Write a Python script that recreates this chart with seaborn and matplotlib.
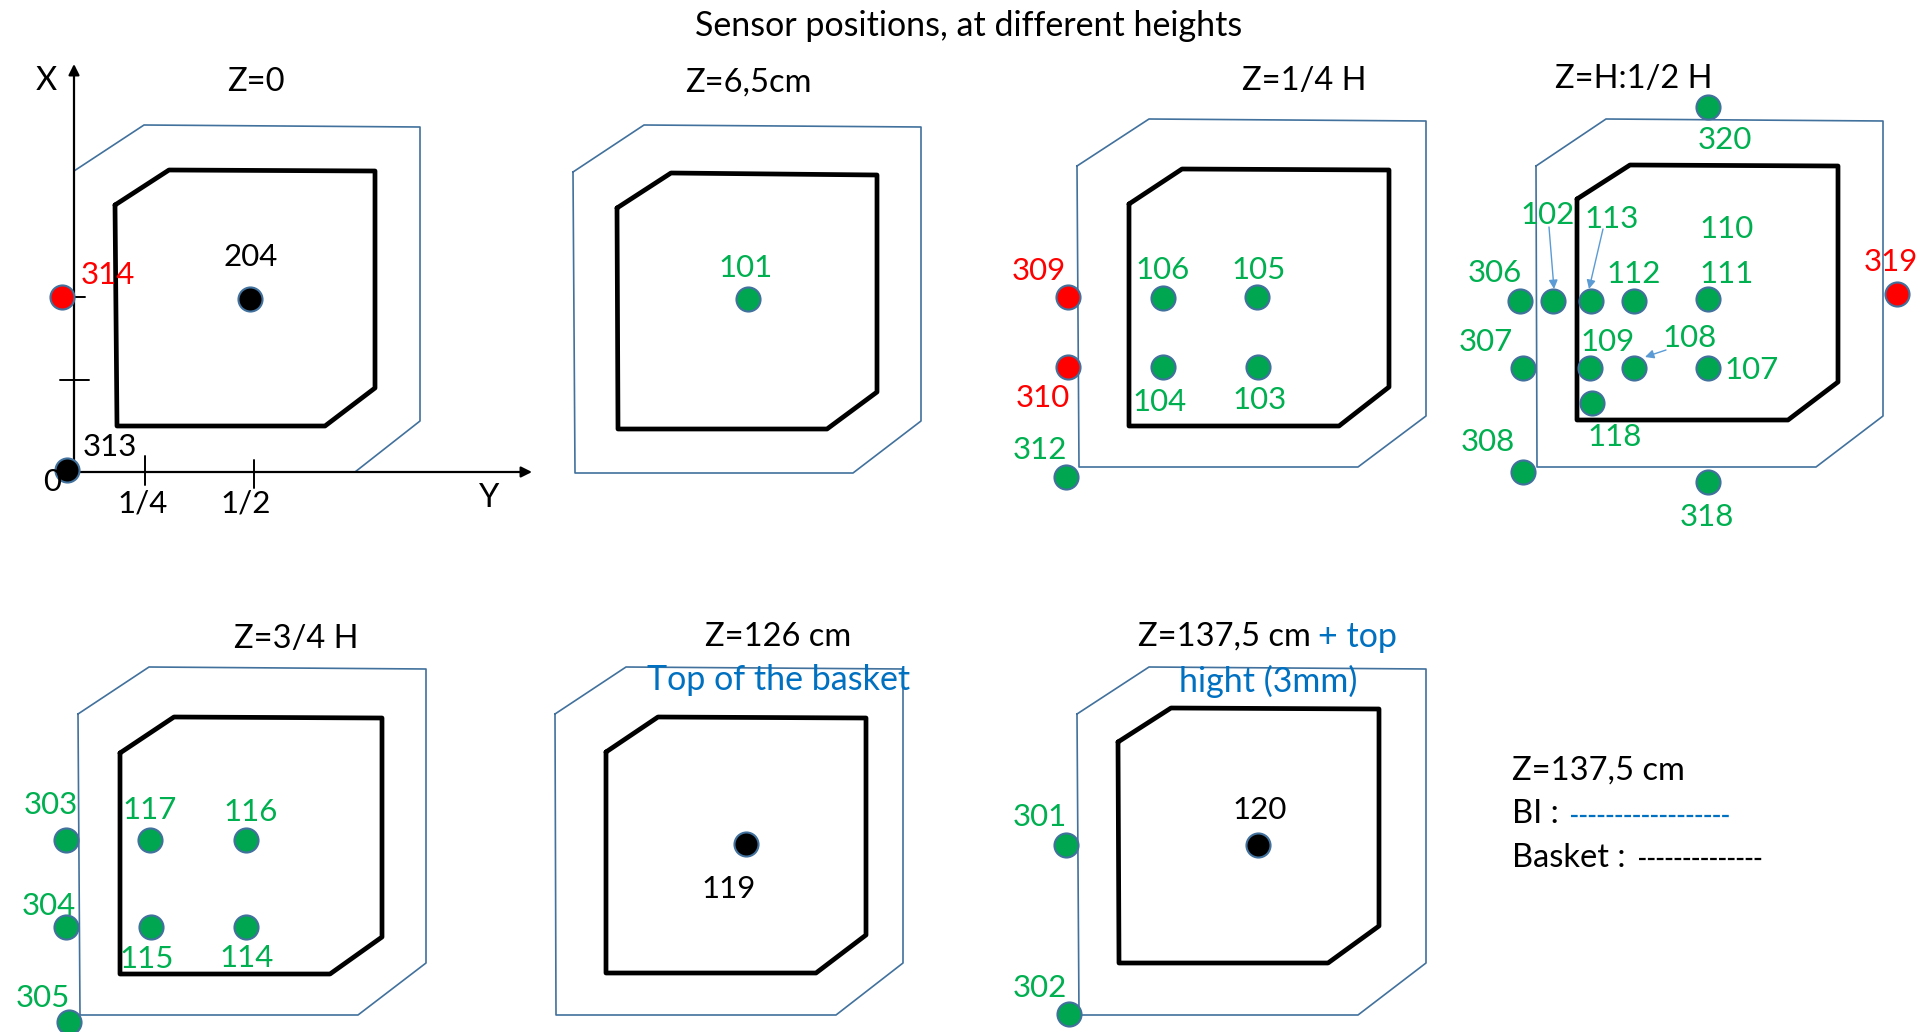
import matplotlib
matplotlib.use("Agg")
import matplotlib.pyplot as plt
import pandas as pd
import seaborn as sns

sns.set_theme(style="white")
plt.rcParams["font.family"] = ["Lato", "DejaVu Sans"]

GREEN = "#00b050"
DOT_GREEN = "#00a650"
RED = "#ff0000"
BLUE = "#0070c0"
EDGE = "#41719c"
FONT = 22.5
HEAD_FONT = 23.5
BIG_FONT = 24.5

## basket and BI outlines, one (x, y) list per panel
outer_z0 = [(74, 171), (144, 125), (420, 127), (420, 421), (355, 472), (74, 472)]
inner_z0 = [(115, 205), (169, 170), (375, 171), (375, 388), (325, 426), (117, 426)]
outer_z65 = [(573, 172), (644, 125), (921, 127), (921, 421), (853, 473), (575, 473)]
inner_z65 = [(617, 208), (671, 173), (877, 175), (877, 392), (827, 429), (618, 429)]
outer_q1 = [(1077, 166), (1149, 119), (1426, 121), (1426, 416), (1358, 467), (1079, 467)]
inner_q1 = [(1129, 204), (1182, 169), (1389, 170), (1389, 387), (1339, 426), (1129, 426)]
outer_half = [(1536, 166), (1606, 119), (1883, 121), (1883, 416), (1816, 467), (1537, 467)]
inner_half = [(1577, 199), (1630, 165), (1838, 166), (1838, 382), (1788, 420), (1577, 420)]
outer_q3 = [(78, 714), (149, 667), (426, 669), (426, 963), (358, 1015), (80, 1015)]
inner_q3 = [(120, 753), (174, 717), (382, 718), (382, 937), (330, 974), (120, 974)]
outer_z126 = [(555, 714), (626, 667), (903, 669), (903, 963), (836, 1015), (556, 1015)]
inner_z126 = [(606, 752), (658, 717), (866, 718), (866, 935), (816, 973), (606, 973)]
outer_z137 = [(1077, 714), (1149, 667), (1426, 669), (1426, 963), (1358, 1015), (1079, 1015)]
inner_z137 = [(1118, 742), (1171, 708), (1379, 709), (1379, 926), (1328, 963), (1119, 963)]

outers = [outer_z0, outer_z65, outer_q1, outer_half, outer_q3, outer_z126, outer_z137]
inners = [inner_z0, inner_z65, inner_q1, inner_half, inner_q3, inner_z126, inner_z137]

## sensors: name, dot x, dot y
red_sensors = [("314", 62, 297), ("309", 1068, 297), ("310", 1068, 367), ("319", 1897, 294)]
black_sensors = [("204", 250, 299), ("313", 67, 470), ("119", 746, 844), ("120", 1258, 845)]
green_sensors = [
    ("101", 748, 299),
    ("312", 1066, 477), ("106", 1163, 298), ("105", 1257, 297), ("104", 1163, 367), ("103", 1258, 367),
    ("320", 1708, 107), ("306", 1520, 301), ("102", 1553, 301), ("113", 1591, 301), ("112", 1634, 301),
    ("111", 1708, 299), ("307", 1523, 368), ("109", 1590, 368), ("108", 1634, 368), ("107", 1708, 368),
    ("118", 1592, 403), ("308", 1523, 472), ("318", 1708, 482),
    ("303", 66, 840), ("117", 150, 840), ("116", 246, 840), ("304", 66, 927), ("115", 151, 927),
    ("114", 246, 927), ("305", 69, 1022),
    ("301", 1066, 845), ("302", 1069, 1014),
]

## text: string, centre x, centre y
heading_labels = [
    ("X", 46, 81), ("Z=0", 256, 82), ("Y", 489, 498), ("Z=6,5cm", 748, 83),
    ("Z=1/4 H", 1304, 81), ("Z=H:1/2 H", 1634, 79), ("Z=3/4 H", 296, 639),
    ("Z=126 cm", 778, 637), ("Z=137,5 cm", 1224, 637),
]
black_labels = [
    ("204", 251, 257), ("313", 110, 447), ("0", 52, 482),
    ("1/4", 143, 504), ("1/2", 246, 504), ("119", 729, 889), ("120", 1260, 810),
]
red_labels = [("314", 108, 275), ("309", 1039, 271), ("310", 1043, 398), ("319", 1891, 262)]
green_labels = [
    ("101", 746, 268), ("106", 1163, 270), ("105", 1259, 270), ("104", 1160, 402), ("103", 1260, 400),
    ("312", 1040, 450), ("320", 1725, 140), ("102", 1548, 215), ("113", 1612, 219), ("110", 1727, 229),
    ("306", 1495, 273), ("112", 1634, 274), ("111", 1727, 274), ("307", 1486, 342), ("109", 1608, 342),
    ("108", 1690, 338), ("107", 1752, 370), ("118", 1615, 437), ("308", 1488, 442), ("318", 1707, 517),
    ("303", 51, 805), ("117", 150, 810), ("116", 251, 812), ("304", 49, 906), ("115", 147, 959),
    ("114", 247, 958), ("305", 43, 998), ("301", 1040, 817), ("302", 1040, 988),
]
blue_labels = [("Top of the basket", 779, 680), ("+ top", 1358, 637), ("hight (3mm)", 1268, 681)]
key_labels = [("Z=137,5 cm", 1512, 771), ("BI :", 1512, 814), ("Basket :", 1512, 858)]


def draw_outline(points, ax, color, width):
    df = pd.DataFrame(points + points[:1], columns=["x", "y"])
    sns.lineplot(data=df, x="x", y="y", sort=False, estimator=None, color=color, linewidth=width, ax=ax, zorder=2)


def draw_sensors(sensors, ax, color):
    df = pd.DataFrame(sensors, columns=["name", "x", "y"])
    sns.scatterplot(data=df, x="x", y="y", color=color, s=300, edgecolor=EDGE, linewidth=1.5, ax=ax, zorder=4)


def draw_labels(labels, ax, color, size=FONT, ha="center"):
    for text, x, y in labels:
        ax.text(x, y, text, color=color, fontsize=size, ha=ha, va="center", zorder=5)


fig, ax = plt.subplots(figsize=(19.24, 10.32), dpi=100)
fig.subplots_adjust(left=0, right=1, bottom=0, top=1)

for outer in outers:
    draw_outline(outer, ax, EDGE, 1.2)
for inner in inners:
    draw_outline(inner, ax, "black", 3.4)

## X/Y axes of the first panel
axis_style = dict(arrowstyle="-|>", color="black", lw=1.6, shrinkA=0, shrinkB=0, mutation_scale=16)
ax.annotate("", xy=(74, 64), xytext=(74, 472), arrowprops=axis_style, zorder=3)
ax.annotate("", xy=(532, 472), xytext=(67, 472), arrowprops=axis_style, zorder=3)
ax.plot([145, 145], [456, 485], color="black", lw=1.4)
ax.plot([254, 254], [460, 488], color="black", lw=1.4)
ax.plot([60, 89], [380, 380], color="black", lw=1.4)
ax.plot([74, 85], [297, 297], color="black", lw=1.4)

## pointers from labels 102, 113, 108 to their dots
pointer_style = dict(arrowstyle="-|>", color="#5b9bd5", lw=1.0, shrinkA=0, shrinkB=0, mutation_scale=13)
ax.annotate("", xy=(1554, 289), xytext=(1549, 227), arrowprops=pointer_style, zorder=3)
ax.annotate("", xy=(1589, 289), xytext=(1603, 229), arrowprops=pointer_style, zorder=3)
ax.annotate("", xy=(1645, 357), xytext=(1666, 350), arrowprops=pointer_style, zorder=3)

draw_sensors(green_sensors, ax, DOT_GREEN)
draw_sensors(red_sensors, ax, RED)
draw_sensors(black_sensors, ax, "black")

draw_labels(heading_labels, ax, "black", size=HEAD_FONT)
draw_labels(black_labels, ax, "black")
draw_labels(red_labels, ax, RED)
draw_labels(green_labels, ax, GREEN)
draw_labels(blue_labels, ax, BLUE, size=BIG_FONT)
draw_labels(key_labels, ax, "black", size=HEAD_FONT, ha="left")

ax.text(969, 26, "Sensor positions, at different heights", color="black", fontsize=BIG_FONT, ha="center", va="center")

## line key
ax.plot([1571, 1729], [816, 816], color=BLUE, lw=1.6, ls=(0, (3, 1)))
ax.plot([1639, 1763], [859, 859], color="black", lw=1.6, ls=(0, (3, 1)))

ax.set_xlim(0, 1924)
ax.set_ylim(1032, 0)
ax.axis("off")

fig.savefig("out.png", dpi=100, facecolor="white")
